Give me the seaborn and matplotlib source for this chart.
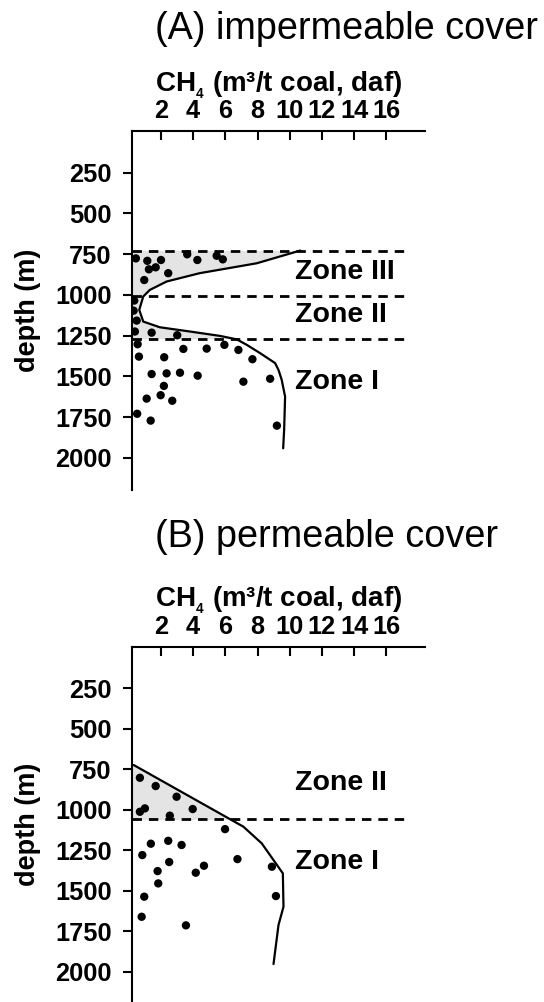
import numpy as np
import pandas as pd
import matplotlib
matplotlib.use("Agg")
import matplotlib.pyplot as plt
import seaborn as sns

# ---------------- data ----------------
xticks = [2, 4, 6, 8, 10, 12, 14, 16]
yticks = [250, 500, 750, 1000, 1250, 1500, 1750, 2000]

# Panel A: impermeable cover
a_curve_gas = [10.65, 7.95, 4.4, 2.35, 1.3, 0.9, 0.65, 0.9, 1.93, 3.8, 5.67, 6.7,
               7.33, 8.16, 9.09, 9.3, 9.5, 9.71, 9.65, 9.59]
a_curve_depth = [728, 806, 867, 918, 970, 1010, 1092, 1164, 1199, 1225, 1252, 1273,
                 1307, 1358, 1419, 1461, 1522, 1625, 1829, 1942]
a_dots_gas = [0.44, 1.15, 2.0, 1.25, 1.67, 2.45, 0.96, 3.63, 4.26, 5.46, 5.84,
              0.34, 0.3, 0.49, 0.38, 1.42, 3.01, 0.55, 0.63, 3.39, 4.84, 5.94,
              6.81, 7.68, 2.2, 1.42, 2.35, 3.18, 4.28, 7.12, 8.78, 2.18, 1.11,
              1.98, 2.7, 0.52, 1.36, 9.2]
a_dots_depth = [776, 791, 786, 843, 831, 867, 909, 751, 786, 760, 782,
                1035, 1097, 1158, 1225, 1232, 1248, 1303, 1379, 1332, 1330, 1307,
                1338, 1395, 1383, 1486, 1482, 1478, 1496, 1533, 1515, 1559, 1637,
                1616, 1650, 1730, 1772, 1803]
a_zone_bounds = [728, 1007, 1269]
a_zone_names = ["Zone III", "Zone II", "Zone I"]
a_zone_label_depth = [858, 1123, 1533]

# Panel B: permeable cover
b_curve_gas = [0.3, 6.19, 7.12, 8.26, 8.99, 9.57, 9.61, 9.3, 8.99]
b_curve_depth = [723, 1052, 1104, 1207, 1310, 1392, 1598, 1711, 1952]
b_dots_gas = [0.69, 1.67, 2.97, 3.97, 0.69, 1.0, 2.55, 5.98, 1.37, 2.45, 3.28,
              0.84, 2.51, 6.75, 1.79, 4.16, 4.67, 8.89, 1.83, 0.96, 9.14, 0.8, 3.55]
b_dots_depth = [802, 853, 919, 995, 1012, 991, 1036, 1119, 1209, 1191, 1217,
                1279, 1322, 1304, 1378, 1388, 1345, 1351, 1454, 1536, 1532, 1660, 1713]
b_zone_bounds = [1059]
b_zone_names = ["Zone II", "Zone I"]
b_zone_label_depth = [833, 1320]
b_fill_top = 723

titles = ["(A) impermeable cover", "(B) permeable cover"]
xlabel = "CH$_{_4}$ (m\u00b3/t coal, daf)"
ylabel = "depth (m)"

# ---------------- style ----------------
sns.set_style("ticks")
plt.rcParams["font.family"] = ["Liberation Sans", "DejaVu Sans"]
plt.rcParams["mathtext.fontset"] = "custom"
plt.rcParams["mathtext.rm"] = "Liberation Sans:bold"
plt.rcParams["mathtext.bf"] = "Liberation Sans:bold"
plt.rcParams["mathtext.it"] = "Liberation Sans:bold"
for k in ["text.color", "axes.labelcolor", "xtick.color", "ytick.color", "axes.edgecolor"]:
    plt.rcParams[k] = "black"

W, H = 544, 1002
fig = plt.figure(figsize=(W / 100, H / 100), dpi=100)

def frac_box(left, top, right, bottom):
    return [left / W, 1 - bottom / H, (right - left) / W, (bottom - top) / H]

axA = fig.add_axes(frac_box(132, 131, 425, 490))
axB = fig.add_axes(frac_box(132, 646.7, 425, 1002))

FILL = "#e4e4e4"
DASH = (0, (3.4, 2.5))
TICKFS = 18.3

def style_axis(ax, ylim):
    ax.set_xlim(0.2, 18.4)
    ax.set_ylim(*ylim)
    ax.xaxis.tick_top()
    ax.xaxis.set_label_position("top")
    ax.set_xticks(xticks)
    ax.set_yticks(yticks)
    ax.set_xticklabels([str(t) for t in xticks], fontsize=TICKFS, fontweight="bold")
    ax.set_yticklabels([str(t) for t in yticks], fontsize=TICKFS, fontweight="bold")
    ax.tick_params(axis="x", direction="in", length=6.5, width=1.5, pad=5.5, top=True, bottom=False)
    ax.tick_params(axis="y", direction="out", length=6.5, width=1.5, pad=8)
    for s in ["right", "bottom"]:
        ax.spines[s].set_visible(False)
    for s in ["top", "left"]:
        ax.spines[s].set_linewidth(1.5)
        ax.spines[s].set_color("black")
        ax.spines[s].set_zorder(6)
    ax.set_facecolor("white")

def draw_panel(ax, ylim, cgas, cdep, fill_top, fill_bot, dgas, ddep, bounds, names, ldep):
    style_axis(ax, ylim)
    cg = np.array(cgas); cd = np.array(cdep)
    mask = (cd >= fill_top) & (cd <= fill_bot)
    fd = np.concatenate([cd[mask], [fill_bot]])
    fg = np.concatenate([cg[mask], [np.interp(fill_bot, cd, cg)]])
    ax.fill_betweenx(fd, 0.2, fg, color=FILL, lw=0, zorder=1)
    dfc = pd.DataFrame({"gas": cgas, "depth": cdep})
    sns.lineplot(data=dfc, x="gas", y="depth", sort=False, estimator=None,
                 color="black", lw=1.6, ax=ax, zorder=3)
    dfd = pd.DataFrame({"gas": dgas, "depth": ddep})
    sns.scatterplot(data=dfd, x="gas", y="depth", color="black", s=36,
                    edgecolor="none", ax=ax, zorder=4)
    for b in bounds:
        ax.plot([0.2, 17.2], [b, b], color="black", lw=2.0, linestyle=DASH, zorder=5)
    for name, d in zip(names, ldep):
        ax.text(10.3, d, name, fontsize=20.5, fontweight="bold", va="center", ha="left")
    ax.set_xlabel(xlabel, fontsize=20, fontweight="bold", labelpad=6)
    ax.set_ylabel(ylabel, fontsize=19.5, fontweight="bold", labelpad=10)

draw_panel(axA, (2198, -6), a_curve_gas, a_curve_depth, a_zone_bounds[0], a_zone_bounds[-1],
           a_dots_gas, a_dots_depth, a_zone_bounds, a_zone_names, a_zone_label_depth)
draw_panel(axB, (2186, -7), b_curve_gas, b_curve_depth, b_fill_top, b_zone_bounds[0],
           b_dots_gas, b_dots_depth, b_zone_bounds, b_zone_names, b_zone_label_depth)

fig.text(155 / W, 1 - 29 / H, titles[0], fontsize=27.3, ha="left", va="center")
fig.text(155 / W, 1 - 537 / H, titles[1], fontsize=27.3, ha="left", va="center")

fig.savefig("out.png", dpi=100, facecolor="white")
